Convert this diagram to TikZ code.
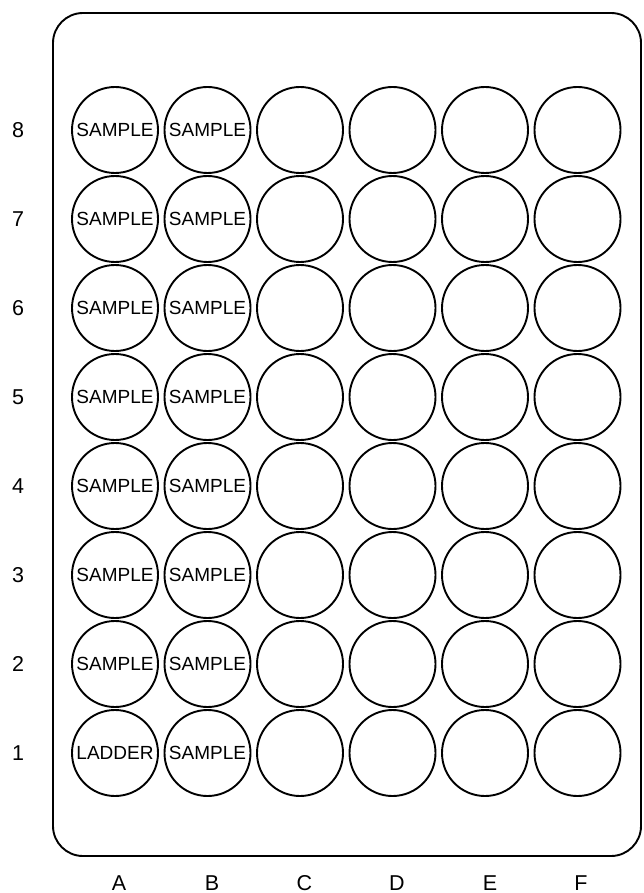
\documentclass[tikz,border=0pt]{standalone}
\usepackage{fontspec}
\setmainfont{Liberation Sans}
\usetikzlibrary{positioning}

\begin{document}
\begin{tikzpicture}[x=1pt,y=-1pt,
    well/.style={draw, circle, line width=1.9pt, minimum size=86pt, inner sep=0pt,
      font=\fontsize{19}{20}\selectfont},
    axislabel/.style={font=\fontsize{21.5}{22}\selectfont}]
  \useasboundingbox (0,0) rectangle (644,893);
  % plate outline
  \draw[line width=1.9pt, rounded corners=30pt] (53,13) rectangle (641,856);

  % rows: label, column B and the empty columns
  \foreach \r in {1,...,8} {
    \pgfmathsetmacro\y{753-(\r-1)*89}
    \node[axislabel] (row\r) at (18,\y) {\r};
    \node[well] (wellB\r) at (207.5,\y) {SAMPLE};
    \foreach \c/\x in {C/300, D/392.5, E/485, F/577.5}
      \node[well] (well\c\r) at (\x,\y) {};
  }

  % column A
  \node[well] (wellA1) at (115,753) {LADDER};
  \foreach \r in {2,...,8}
    \node[well] (wellA\r) at (115,{753-(\r-1)*89}) {SAMPLE};

  % column letters
  \foreach \c/\x in {A/119, B/212, C/304.5, D/397, E/490, F/581}
    \node[axislabel] (col\c) at (\x,883) {\c};
\end{tikzpicture}
\end{document}
